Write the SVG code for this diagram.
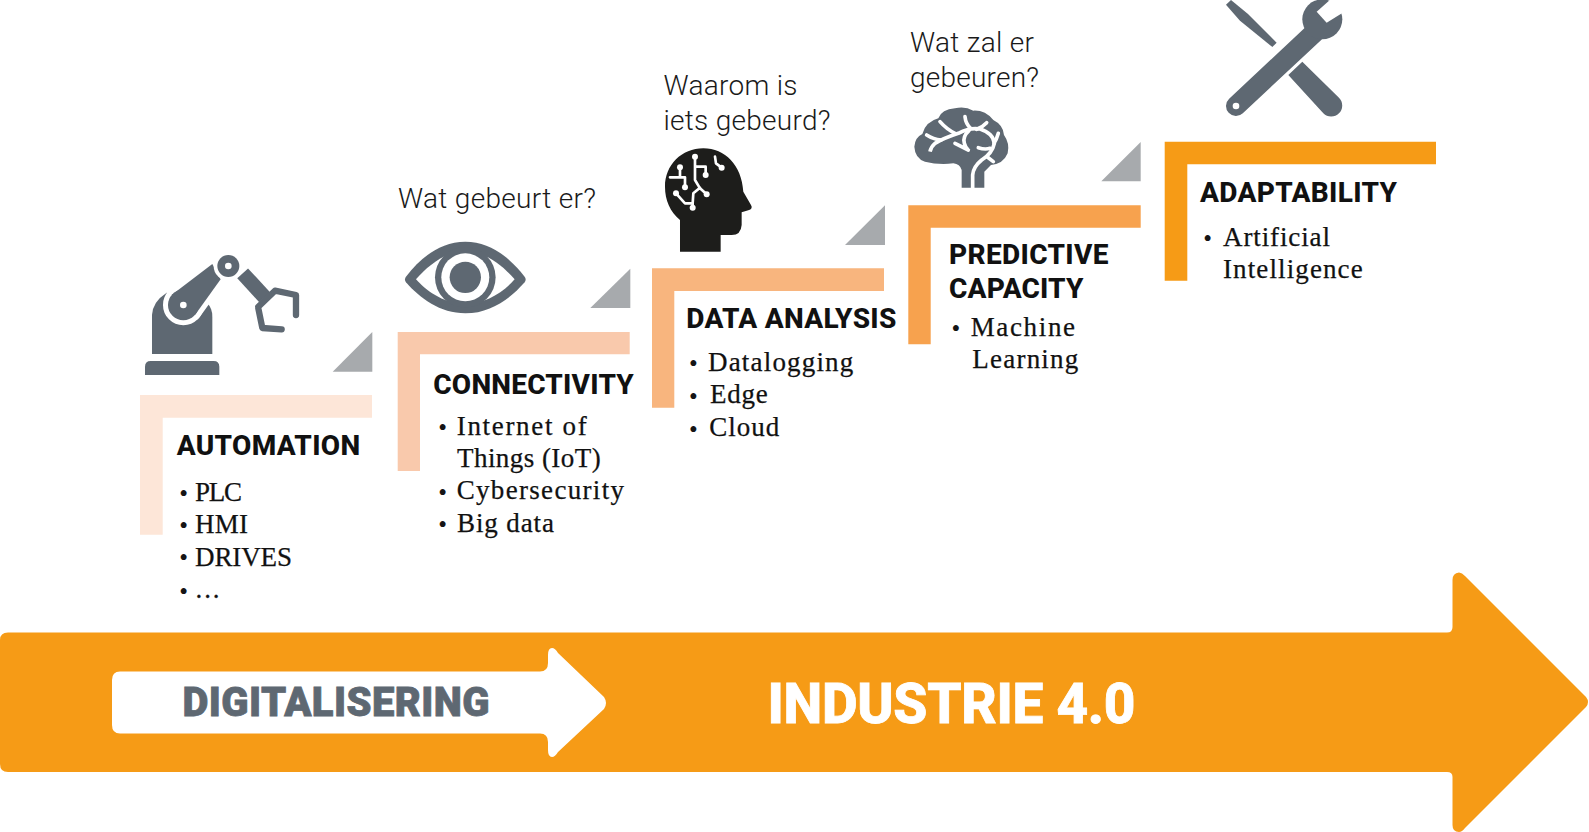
<svg xmlns="http://www.w3.org/2000/svg" width="1589" height="832" viewBox="0 0 1589 832">
<style>
.h{font-family:Roboto,"Liberation Sans",sans-serif;font-weight:800;font-size:28px;fill:#111}
.s{font-family:"Liberation Serif",serif;font-size:27px;fill:#111;stroke:#111;stroke-width:.25px}
.b{font-family:"Liberation Serif",serif;font-size:25px;fill:#151515;text-anchor:middle}
.q{font-family:Roboto,"Liberation Sans",sans-serif;font-weight:300;font-size:28px;fill:#1a1a1a}
.tri{fill:#a7aaad}
.g{fill:#5e6872}
.w{fill:#fff}
.ws{fill:none;stroke:#fff;stroke-linecap:round;stroke-linejoin:round}
</style>
<rect width="1589" height="832" fill="#fff"/>
<g id="main-arrow">
<path d="M0,640Q0,632.5 8,632.5H1447Q1452.5,632.5 1452.5,627V580Q1452.5,573 1459,572.5Q1462,572.5 1465,576L1586,697Q1590,702 1586,707L1465,828Q1462,832 1459,832Q1452.5,832 1452.5,825V777Q1452.5,772 1447,772H8Q0,772 0,764Z" fill="#f69b16"/>
<text x="767.5" y="723" textLength="368" style="font-family:Roboto,'Liberation Sans',sans-serif;font-weight:800;font-size:55px;fill:#fff;stroke:#fff;stroke-width:.8px">INDUSTRIE 4.0</text>
</g>
<g id="digitalisering">
<path d="M112,680Q112,671.5 120,671.5H540Q548,671.5 548,663V655Q548,648 552,648Q555,648 558,653L604,697Q608,703 604,709L558,752Q555,757 552,757Q548,757 548,750V742Q548,733.5 540,733.5H120Q112,733.5 112,725Z" fill="#fff"/>
<text x="182.5" y="715.5" textLength="307" style="font-family:Roboto,'Liberation Sans',sans-serif;font-weight:900;font-size:40px;fill:#5e6872;stroke:#5e6872;stroke-width:.8px">DIGITALISERING</text>
</g>
<g id="automation">
<path d="M140,395H372V417.7H162.7V534.7H140Z" fill="#fde6d8"/>
<path class="tri" d="M372.3,332V371.7H332.7Z"/>
<g id="robot-icon" transform="translate(130,240) scale(.3333)">
<path class="g" d="M66,342V225Q68,185 110,158L232,190Q247,205 247,230V342Z"/>
<path class="g" d="M45,405V380Q45,363 62,363H251Q268,363 268,380V405Z"/>
<g fill="#fff" stroke="#fff" stroke-width="30" stroke-linejoin="round"><circle cx="160" cy="195" r="46"/><path d="M125,165L247,72L272,118L195,225Z"/></g>
<circle cx="160" cy="195" r="46" class="g"/><path class="g" d="M125,165L247,72L272,118L195,225Z"/>
<circle cx="295" cy="78" r="44" class="w"/>
<circle cx="295" cy="78" r="33" class="g"/>
<circle cx="295" cy="78" r="10" class="w"/>
<circle cx="160" cy="195" r="10" class="w"/>
<path d="M338,100L404,172" stroke="#5e6872" stroke-width="44" fill="none"/>
<path d="M385,200L435,152L498,165L498,225M385,205L397,264L455,268" stroke="#5e6872" stroke-width="19" fill="none" stroke-linecap="round" stroke-linejoin="round"/>
</g>
<text class="h" x="176.7" y="454.5" textLength="183.5">AUTOMATION</text>
<text class="b" x="183.7" y="501.8">•</text><text class="s" x="195" y="501.4" textLength="47">PLC</text>
<text class="b" x="183.7" y="534">•</text><text class="s" x="195" y="533.4" textLength="53">HMI</text>
<text class="b" x="183.7" y="566.3">•</text><text class="s" x="195" y="565.7" textLength="97">DRIVES</text>
<text class="b" x="183.7" y="599.5">•</text><text class="s" x="195.5" y="598.4" textLength="24">...</text>
</g>
<g id="connectivity">
<path d="M397.7,332H629.7V354.3H420V471H397.7Z" fill="#f9c9ac"/>
<path class="tri" d="M630.3,268.7V308H590.3Z"/>
<g id="eye-icon" transform="translate(120,230) scale(.3333)">
<path class="g" d="M858,140C900,85 960,35 1036,35C1112,35 1172,85 1214,140Q1220,148 1214,157C1172,205 1112,250 1036,250C960,250 900,205 858,157Q852,148 858,140Z"/>
<path class="w" d="M888,148C925,105 980,63 1036,63C1092,63 1147,105 1184,148C1147,190 1092,222 1036,222C980,222 925,190 888,148Z"/>
<circle cx="1036" cy="142" r="91" class="g"/>
<circle cx="1036" cy="142" r="72" class="w"/>
<circle cx="1036" cy="142" r="47" class="g"/>
</g>
<text class="q" x="398" y="207.5" textLength="198">Wat gebeurt er?</text>
<text class="h" x="433.3" y="393.8" textLength="200.5">CONNECTIVITY</text>
<text class="b" x="442.7" y="435.5">•</text><text class="s" x="456.7" y="434.7" textLength="130">Internet of</text>
<text class="s" x="457" y="466.7" textLength="143.7">Things (IoT)</text>
<text class="b" x="442.7" y="501">•</text><text class="s" x="456.7" y="499" textLength="167.3">Cybersecurity</text>
<text class="b" x="442.7" y="533.3">•</text><text class="s" x="457" y="531.7" textLength="97">Big data</text>
</g>
<g id="data-analysis">
<path d="M652,268.3H884V291H674.3V407.7H652Z" fill="#f8b57e"/>
<path class="tri" d="M885,205.3V245H845Z"/>
<g id="head-icon" transform="translate(650,135) scale(.3333)">
<path fill="#1d1d1b" d="M90,350V255C60,230 45,195 45,155C45,90 95,40 160,40C225,40 275,90 280,170L303,210Q310,222 295,226L275,232V270Q273,300 245,300H212V350Z"/>
<g class="ws" stroke-width="8">
<path d="M60,127H105V157M90,97V127M135,65V135L150,160L170,178M140,95H167V120M78,175L105,205H128V218M128,205L130,175L150,158M195,65L198,85L215,98"/>
</g>
<g class="w"><circle cx="105" cy="157" r="9"/><circle cx="90" cy="97" r="9"/><circle cx="135" cy="65" r="9"/><circle cx="170" cy="178" r="9"/><circle cx="167" cy="120" r="9"/><circle cx="78" cy="175" r="9"/><circle cx="128" cy="218" r="9"/><circle cx="215" cy="98" r="9"/></g>
</g>
<text class="q" x="663.5" y="94.8" textLength="134">Waarom is</text>
<text class="q" x="663.5" y="129.8" textLength="167">iets gebeurd?</text>
<text class="h" x="686.3" y="327.8" textLength="210">DATA ANALYSIS</text>
<text class="b" x="693.3" y="372">•</text><text class="s" x="708" y="370.7" textLength="145.3">Datalogging</text>
<text class="b" x="693.3" y="404.7">•</text><text class="s" x="710" y="403" textLength="57.7">Edge</text>
<text class="b" x="693.3" y="437.5">•</text><text class="s" x="709.3" y="435.7" textLength="70">Cloud</text>
</g>
<g id="predictive-capacity">
<path d="M908.3,205.3H1140.7V227.7H930.7V344.3H908.3Z" fill="#f7a24e"/>
<path class="tri" d="M1140.7,142V181.3H1101.3Z"/>
<g id="brain-icon" transform="translate(905,100) scale(.3333)">
<path class="g" d="M170,263V210Q165,192 145,190Q100,195 60,185Q30,175 28,140Q30,112 52,102Q62,65 100,55Q110,28 150,25Q180,18 205,32Q240,30 265,60Q295,75 297,105Q315,130 308,160Q295,192 258,195L238,215V263Z"/>
<g class="ws" stroke-width="11">
<path d="M203,268V225Q205,200 230,180Q262,160 268,130Q265,100 225,87Q195,82 160,100Q115,115 90,130Q78,140 75,155" stroke-linecap="butt"/>
<path d="M180,50Q182,72 197,85M245,68Q232,82 215,88M105,65Q125,88 150,100M65,105Q85,118 108,120M192,92Q172,110 178,130Q182,145 190,150Q170,140 150,130M280,100Q275,118 267,130M220,143Q240,150 255,145M248,172L265,185"/>
</g>
</g>
<text class="q" x="910" y="52.2" textLength="124">Wat zal er</text>
<text class="q" x="910" y="86.8" textLength="129">gebeuren?</text>
<text class="h" x="949" y="263.8" textLength="159.5">PREDICTIVE</text>
<text class="h" x="949" y="297.8" textLength="134.5">CAPACITY</text>
<text class="b" x="956" y="337">•</text><text class="s" x="970.7" y="335.7" textLength="104.3">Machine</text>
<text class="s" x="972.3" y="368.4" textLength="106">Learning</text>
</g>
<g id="adaptability">
<path d="M1164.7,141.7H1436V164.3H1187.3V280.7H1164.7Z" fill="#f69b16"/>
<g id="tools-icon" transform="translate(1150,0) scale(.3333)">
<path class="g" d="M228,14L243,0L294,42L380,128L367,141L270,62Z"/>
<path class="g" d="M415,225L457,185L567,293A33,33 0 0 1 520,340Z"/>
<path d="M258,318L494,97" stroke="#5e6872" stroke-width="60" stroke-linecap="round" fill="none"/>
<circle cx="517" cy="58" r="60" class="g"/>
<path class="w" d="M560,-18L500,35L530,68L600,25V-18Z"/>
<circle cx="258" cy="318" r="10" class="w"/>
</g>
<text class="h" x="1200" y="201.8" textLength="197">ADAPTABILITY</text>
<text class="b" x="1207.7" y="246.5">•</text><text class="s" x="1223" y="245.7" textLength="107">Artificial</text>
<text class="s" x="1223" y="278" textLength="139.7">Intelligence</text>
</g>
</svg>
